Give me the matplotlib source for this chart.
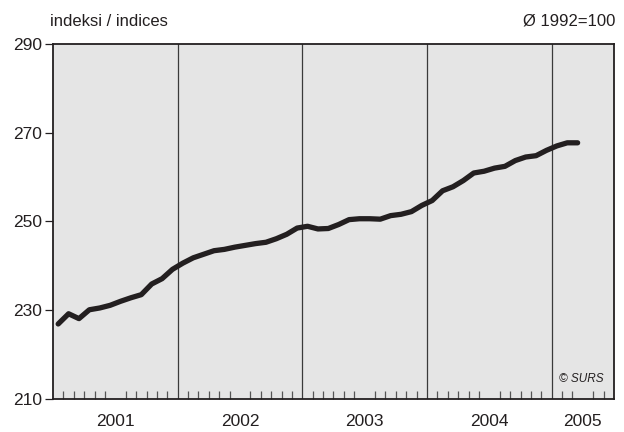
import matplotlib
matplotlib.use("Agg")
import matplotlib.pyplot as plt
import numpy as np

# Monthly index values, Jan 2001 .. Mar 2005 (Ø 1992=100)
values = [
    226.9, 229.2, 228.1, 230.1, 230.5, 231.1, 232.0, 232.8, 233.5, 235.9, 237.1, 239.2,   # 2001
    240.6, 241.8, 242.6, 243.4, 243.7, 244.2, 244.6, 245.0, 245.3, 246.1, 247.1, 248.5,   # 2002
    248.9, 248.3, 248.4, 249.3, 250.4, 250.6, 250.6, 250.5, 251.3, 251.6, 252.2, 253.6,   # 2003
    254.7, 256.9, 257.8, 259.2, 260.9, 261.3, 262.0, 262.4, 263.7, 264.5, 264.8, 266.0,   # 2004
    267.0, 267.7, 267.7,                                                                  # 2005
]
years = ["2001", "2002", "2003", "2004", "2005"]
months_per_year = [12, 12, 12, 12, 6]
yticks = [210, 230, 250, 270, 290]

FONT = ["Liberation Sans", "DejaVu Sans"]
plt.rcParams["font.family"] = FONT

fig = plt.figure(figsize=(6.24, 4.32), dpi=100)
ax = fig.add_axes([53 / 624, 1 - 399 / 432, (614 - 53) / 624, (399 - 43.8) / 432])
ax.set_facecolor("#e5e5e5")

total_months = sum(months_per_year)
x = np.arange(len(values)) + 0.5
ax.plot(x, values, color="#231f20", lw=3.8, solid_capstyle="round", solid_joinstyle="round", zorder=3)

# year dividers
bounds = np.cumsum(months_per_year)[:-1]
for b in bounds:
    ax.axvline(b, color="#3a3a3a", lw=0.9, zorder=2)

ax.set_xlim(0, total_months)
ax.set_ylim(210, 290)

# y ticks
ax.set_yticks(yticks)
ax.tick_params(axis="y", direction="out", length=6, width=0.9, labelsize=12.5, pad=2, colors="#231f20")

# x: year labels at centres, month minor ticks inside
starts = np.concatenate([[0], np.cumsum(months_per_year)[:-1]])
centers = starts + np.array(months_per_year) / 2
ax.set_xticks(centers)
ax.set_xticklabels(years)
ax.tick_params(axis="x", which="major", length=0, labelsize=12.5, pad=11, colors="#231f20")
minor = [m for m in range(1, total_months) if m not in set(bounds)]
ax.set_xticks(minor, minor=True)
ax.tick_params(axis="x", which="minor", direction="in", length=5.5, width=0.9, color="#555555")

for s in ax.spines.values():
    s.set_linewidth(1.3)
    s.set_color("#231f20")

fig.text(50 / 624, 1 - 21 / 432, "indeksi / indices", ha="left", va="center", fontsize=12, color="#231f20")
fig.text(615 / 624, 1 - 21 / 432, "Ø 1992=100", ha="right", va="center", fontsize=12, color="#231f20")
fig.text(604 / 624, 1 - 379 / 432, "© SURS", ha="right", va="center", fontsize=8.5, style="italic", color="#231f20")

fig.savefig("out.png", dpi=100)
